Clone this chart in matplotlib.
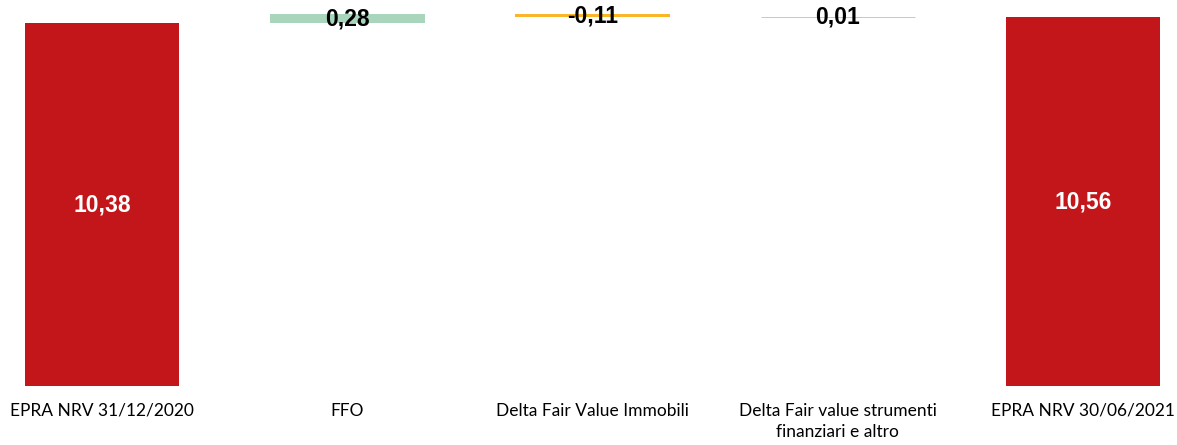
import matplotlib.pyplot as plt
import numpy as np

categories = ['EPRA NRV 31/12/2020', 'FFO', 'Delta Fair Value Immobili',
              'Delta Fair value strumenti\nfinanziari e altro', 'EPRA NRV 30/06/2021']
values = [10.38, 0.28, -0.11, 0.01, 10.56]
labels = ['10,38', '0,28', '-0,11', '0,01', '10,56']
is_total = [True, False, False, False, True]

red = '#c3161a'
green = '#a9d5bc'
orange = '#fbb52b'
grey_line = '#b8cfc4'

fig = plt.figure(figsize=(11.77, 4.45), dpi=100)
ax = fig.add_axes([0, 0.1326, 1, 0.8674])

x = np.arange(len(categories))
running = 0.0
bottoms = []
heights = []
for v, tot in zip(values, is_total):
    if tot:
        bottoms.append(0)
        heights.append(v)
        running = v
    else:
        bottoms.append(running if v >= 0 else running + v)
        heights.append(abs(v))
        running += v

colors = [red, green, orange, 'white', red]
edges = [red, green, orange, grey_line, red]
ax.bar(x, heights, bottom=bottoms, width=0.63, color=colors, edgecolor=edges,
       linewidth=[0, 0, 0, 0.7, 0])

for i in range(len(x)):
    yc = bottoms[i] + heights[i] / 2
    c = 'white' if is_total[i] else 'black'
    ax.text(x[i], yc, labels[i], ha='center', va='center', color=c,
            fontsize=16.5, fontweight='bold', family='Liberation Sans')

ax.set_xlim(-0.416, 4.383)
ax.set_ylim(0, 11.05)
ax.set_xticks(x)
ax.set_xticklabels(categories, fontsize=12.5, family='Lato', linespacing=1.4)
ax.tick_params(axis='x', length=0, pad=12)
ax.set_yticks([])
for s in ax.spines.values():
    s.set_visible(False)

plt.savefig('out.png', dpi=100)
